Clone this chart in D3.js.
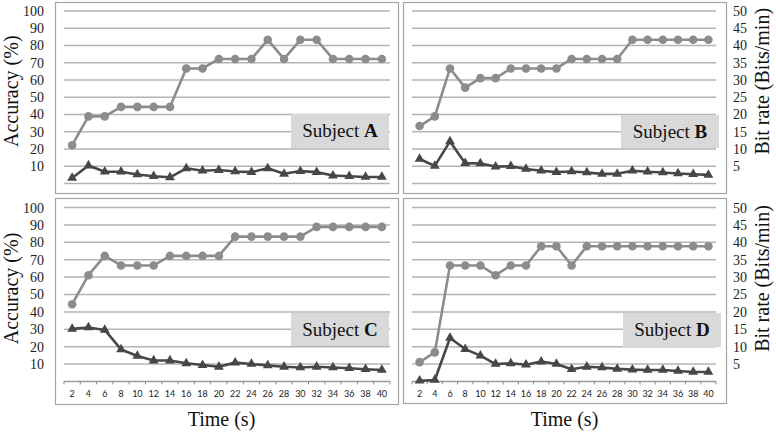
<!DOCTYPE html>
<html><head><meta charset="utf-8">
<script src="https://cdn.jsdelivr.net/npm/d3@7"></script>
</head><body style="margin:0">
<script>
const times = [2,4,6,8,10,12,14,16,18,20,22,24,26,28,30,32,34,36,38,40];
const leftTicks = [10,20,30,40,50,60,70,80,90,100];
const rightTicks = [5,10,15,20,25,30,35,40,45,50];
const subjects = ["A","B","C","D"];
// Accuracy (%) - circles
const accA = [22.2,38.9,38.9,44.4,44.4,44.4,44.4,66.7,66.7,72.2,72.2,72.2,83.3,72.2,83.3,83.3,72.2,72.2,72.2,72.2];
const accB = [33.3,38.9,66.7,55.6,61.1,61.1,66.7,66.7,66.7,66.7,72.2,72.2,72.2,72.2,83.3,83.3,83.3,83.3,83.3,83.3];
const accC = [44.4,61.1,72.2,66.7,66.7,66.7,72.2,72.2,72.2,72.2,83.3,83.3,83.3,83.3,83.3,88.9,88.9,88.9,88.9,88.9];
const accD = [11.1,16.7,66.7,66.7,66.7,61.1,66.7,66.7,77.8,77.8,66.7,77.8,77.8,77.8,77.8,77.8,77.8,77.8,77.8,77.8];
// Bit rate (Bits/min) - triangles
const bitA = [1.6,5.2,3.4,3.4,2.6,2.1,1.8,4.4,3.7,3.9,3.5,3.3,4.4,2.8,3.6,3.3,2.3,2.1,1.9,1.9];
const bitB = [7.1,5.1,12.2,5.9,5.8,4.9,5.0,4.2,3.7,3.3,3.5,3.2,2.8,2.8,3.7,3.4,3.2,2.9,2.7,2.5];
const bitC = [15.1,15.5,14.8,9.2,7.3,6.0,6.0,5.2,4.7,4.2,5.4,5.0,4.6,4.2,4.0,4.2,4.0,3.8,3.5,3.3];
const bitD = [0.2,0.4,12.5,9.3,7.4,5.0,5.2,4.8,5.7,5.0,3.5,4.2,4.0,3.6,3.4,3.3,3.3,3.0,2.7,2.7];

const accs = [accA,accB,accC,accD];
const bits = [bitA,bitB,bitC,bitD];

const W = 776, H = 432;
const FAM = '"Liberation Serif"';
const svg = d3.select("body").append("svg").attr("width",W).attr("height",H)
  .attr("font-family","Liberation Serif").style("font-family",FAM);

const layout = [
  {box:[55,2,398,193], px:[64,390], py:[11,183.5], lbox:[291,114,389,148], showX:false},
  {box:[403,2,726,193], px:[412,716], py:[11,183.5], lbox:[621,115,719,148], showX:false},
  {box:[55,198,398,404], px:[64,390], py:[207.6,381.4], lbox:[291,313,389,346], showX:true},
  {box:[403,198,726,403], px:[412,716], py:[207.6,381.4], lbox:[623,313,721,347], showX:true}
];

const circleColor = "#8c8c8c", triColor = "#474747", gridColor = "#b4b4b4", borderColor = "#a6a6a6";

function serifText(sel, size){
  return sel.attr("font-family","Liberation Serif").style("font-family",FAM).style("font-size",size+"px");
}

layout.forEach((L,i)=>{
  const g = svg.append("g");
  g.append("rect").attr("x",L.box[0]+0.5).attr("y",L.box[1]+0.5)
    .attr("width",L.box[2]-L.box[0]).attr("height",L.box[3]-L.box[1])
    .attr("fill","#fff").attr("stroke",borderColor).attr("stroke-width",1.2);
  const x = d3.scaleBand().domain(times).range(L.px);
  const yL = d3.scaleLinear().domain([0,100]).range([L.py[1],L.py[0]]);
  const yR = d3.scaleLinear().domain([0,50]).range([L.py[1],L.py[0]]);
  g.selectAll("line.grid").data([0].concat(leftTicks)).enter().append("line")
    .attr("x1",L.px[0]).attr("x2",L.px[1]).attr("y1",d=>yL(d)).attr("y2",d=>yL(d))
    .attr("stroke", d=> (d===0 && L.showX) ? "#9a9a9a" : gridColor).attr("stroke-width",1.5);
  if (i%2===0){
    const ax = d3.axisLeft(yL).tickValues(leftTicks).tickSize(0).tickPadding(0);
    const ag = g.append("g").attr("transform",`translate(44,0)`).call(ax);
    ag.attr("font-family","Liberation Serif").attr("font-size",14);
    ag.select(".domain").remove();
    serifText(ag.selectAll("text"),14).attr("fill","#222");
    const cy = (L.py[0]+L.py[1])/2 - 6;
    serifText(svg.append("text"),20).attr("transform",`translate(18,${cy}) rotate(-90)`)
      .attr("text-anchor","middle").attr("fill","#111").text("Accuracy (%)");
  } else {
    const ax = d3.axisRight(yR).tickValues(rightTicks).tickSize(0).tickPadding(0);
    const ag = g.append("g").attr("transform",`translate(733,0)`).call(ax);
    ag.attr("font-family","Liberation Serif").attr("font-size",14);
    ag.select(".domain").remove();
    serifText(ag.selectAll("text"),14).attr("fill","#222");
    const cy = (L.py[0]+L.py[1])/2 - 16;
    serifText(svg.append("text"),20).attr("transform",`translate(769,${cy}) rotate(-90)`)
      .attr("text-anchor","middle").attr("fill","#111").text("Bit rate (Bits/min)");
  }
  if (L.showX){
    const ax = d3.axisBottom(x).tickSize(0).tickPadding(9);
    const ag = g.append("g").attr("transform",`translate(0,${L.py[1]})`).call(ax);
    ag.attr("font-family","Lato").attr("font-size",9);
    ag.select(".domain").remove();
    ag.selectAll("text").attr("font-family","Lato").style("font-family",'"Lato"').style("font-size","9px").attr("fill","#222");
    const bounds = times.map(t=>x(t)).concat([L.px[1]]);
    g.selectAll("line.tk").data(bounds).enter().append("line")
      .attr("x1",d=>d).attr("x2",d=>d).attr("y1",L.py[1]).attr("y2",L.py[1]+3)
      .attr("stroke","#888").attr("stroke-width",1);
    serifText(svg.append("text"),20).attr("x",(L.box[0]+L.box[2])/2 + (i===2? -5 : 0)).attr("y",426)
      .attr("text-anchor","middle").attr("fill","#111").text("Time (s)");
  }
  const cx = t => x(t) + x.bandwidth()/2;
  g.append("rect").attr("x",L.lbox[0]).attr("y",L.lbox[1])
    .attr("width",L.lbox[2]-L.lbox[0]).attr("height",L.lbox[3]-L.lbox[1]).attr("fill","#d9d9d9");
  const tx = serifText(g.append("text"),19).attr("x",(L.lbox[0]+L.lbox[2])/2).attr("y",(L.lbox[1]+L.lbox[3])/2+6)
    .attr("text-anchor","middle").attr("fill","#111");
  tx.append("tspan").text("Subject ");
  tx.append("tspan").attr("font-weight","bold").text(subjects[i]);
  const acc = accs[i];
  g.append("path").datum(acc).attr("fill","none").attr("stroke",circleColor).attr("stroke-width",2.6)
    .attr("stroke-linejoin","round")
    .attr("d", d3.line().x((d,j)=>cx(times[j])).y(d=>yL(d)));
  g.selectAll("circle.pt").data(acc).enter().append("circle")
    .attr("cx",(d,j)=>cx(times[j])).attr("cy",d=>yL(d)).attr("r",4.3).attr("fill",circleColor);
  const b = bits[i];
  g.append("path").datum(b).attr("fill","none").attr("stroke",triColor).attr("stroke-width",2.6)
    .attr("stroke-linejoin","round")
    .attr("d", d3.line().x((d,j)=>cx(times[j])).y(d=>yR(d)));
  const tri = d3.symbol().type(d3.symbolTriangle).size(42);
  g.selectAll("path.tri").data(b).enter().append("path")
    .attr("d",tri).attr("transform",(d,j)=>`translate(${cx(times[j])},${yR(d)})`).attr("fill",triColor);
});
</script>
</body></html>
